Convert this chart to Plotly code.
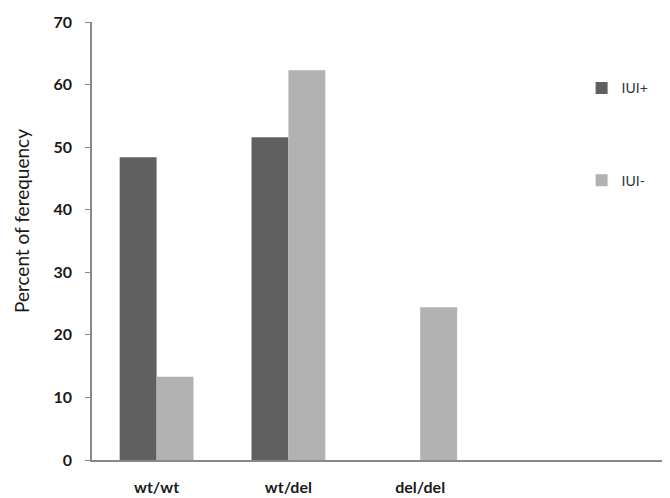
import plotly.graph_objects as go

categories = ["wt/wt", "wt/del", "del/del"]
iui_plus = [48.4, 51.6, 0]
iui_minus = [13.3, 62.3, 24.4]
series_names = ["IUI+", "IUI-"]
colors = ["#606060", "#b2b2b2"]
y_title = "Percent of ferequency"

fig = go.Figure()
for name, vals, col in zip(series_names, [iui_plus, iui_minus], colors):
    fig.add_trace(go.Bar(x=categories, y=vals, name=name, marker_color=col,
                         marker_line_width=0, legendgroup=name))

fig.update_layout(
    width=662, height=490,
    margin=dict(l=84, r=2, t=14, b=29),
    paper_bgcolor="white", plot_bgcolor="white",
    barmode="group", bargap=0.44, bargroupgap=0,
    font=dict(family="Lato", color="#222222"),
    legend=dict(x=0.85, y=0.885, xanchor="left", yanchor="top",
                tracegroupgap=71, font=dict(size=14, color="#333333"),
                bgcolor="rgba(0,0,0,0)"),
    showlegend=True,
    annotations=[dict(text=y_title, textangle=-90, xref="paper", yref="paper",
                      x=-0.122, y=0.545, xanchor="center", yanchor="middle",
                      showarrow=False, font=dict(size=19, color="#1a1a1a"))],
)
fig.update_xaxes(type="category", range=[-0.49, 3.88], showline=True,
                 linecolor="#888888", linewidth=1.5, ticks="",
                 tickfont=dict(size=16, weight="bold", color="#1a1a1a"),
                 ticklabelstandoff=12, showgrid=False, zeroline=False)
fig.update_yaxes(range=[0, 70], dtick=10, showline=True, linecolor="#888888",
                 linewidth=1.5, ticks="outside", ticklen=5, tickcolor="#888888",
                 tickfont=dict(size=16, weight="bold", color="#1a1a1a"),
                 ticklabelstandoff=10, showgrid=False, zeroline=False)

fig.write_html("out.html")
